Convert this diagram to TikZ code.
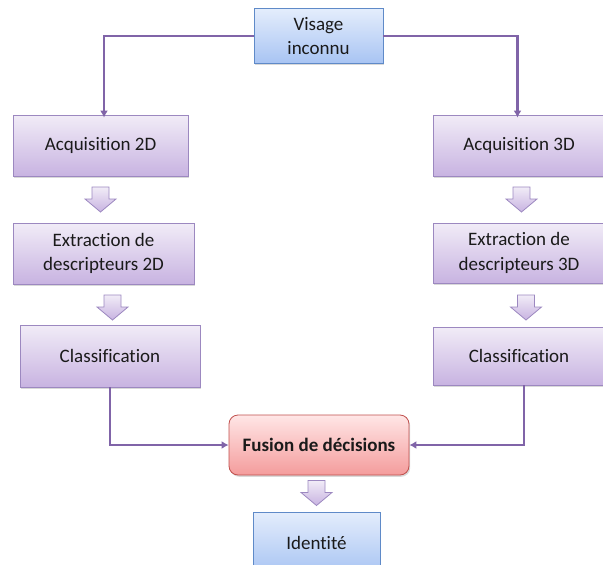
\documentclass[tikz,border=0pt]{standalone}
\usepackage{fontspec}
\setmainfont[Ligatures={NoCommon}]{Carlito}
\usetikzlibrary{shadows,arrows.meta}

\definecolor{lavtop}{HTML}{F1ECF7}
\definecolor{lavbot}{HTML}{C8B3E1}
\definecolor{lavline}{HTML}{9C88C0}
\definecolor{bluetop}{HTML}{E4EDFC}
\definecolor{bluebot}{HTML}{A8C4F3}
\definecolor{blueline}{HTML}{5F8AC8}
\definecolor{redtop}{HTML}{FFE6E6}
\definecolor{redbot}{HTML}{F49C9C}
\definecolor{redline}{HTML}{C0504D}
\definecolor{connline}{HTML}{8064A8}
\definecolor{txt}{HTML}{1A1A1A}

\begin{document}
\begin{tikzpicture}[x=1pt,y=-1pt,
  base/.style={line width=0.8pt, align=center, inner sep=0pt, text=txt,
    font=\fontsize{19}{24.5}\selectfont,
    drop shadow={shadow xshift=1.2pt,shadow yshift=-1.8pt,opacity=0.3}},
  lavbox/.style={base, draw=lavline, top color=lavtop, bottom color=lavbot},
  bluebox/.style={base, draw=blueline, top color=bluetop, bottom color=bluebot},
  fusbox/.style={base, draw=redline, top color=redtop, bottom color=redbot,
    rounded corners=9pt, font=\fontsize{19}{24.5}\selectfont\bfseries},
  conn/.style={draw=connline, line width=2.3pt, -{Latex[length=7pt,width=8pt]}},
  barrow/.pic={
    \draw[draw=lavline, line width=0.8pt, top color=lavtop, bottom color=lavbot]
      (-8.5,0) -- (8.5,0) -- (8.5,12) -- (15.5,12) -- (0,25)
      -- (-15.5,12) -- (-8.5,12) -- cycle;}
]
\useasboundingbox (0,0) rectangle (603,565);
\clip (0,0) rectangle (603,565);

% boxes
\node[bluebox, minimum width=129pt, minimum height=55pt] (vis) at (318.5,36) {Visage\\inconnu};

\node[lavbox, minimum width=175pt, minimum height=61pt] (acq2) at (100.5,145.5) {Acquisition 2D};
\node[lavbox, minimum width=181pt, minimum height=61pt] (ext2) at (103.5,253.5) {Extraction de\\descripteurs 2D};
\node[lavbox, minimum width=180pt, minimum height=62pt] (cls2) at (110,356) {Classification};

\node[lavbox, minimum width=172pt, minimum height=61pt] (acq3) at (519,145.5) {Acquisition 3D};
\node[lavbox, minimum width=172pt, minimum height=60pt] (ext3) at (519,253) {Extraction de\\descripteurs 3D};
\node[lavbox, minimum width=172pt, minimum height=58pt] (cls3) at (519,356) {Classification};

\node[fusbox, minimum width=180pt, minimum height=60pt] (fus) at (319,445) {Fusion de décisions};

\node[bluebox, minimum width=127pt, minimum height=62pt] (idt) at (316.5,543) {Identité};

% connectors
\draw[conn] (vis.west) -| ([xshift=3.5pt,yshift=-3pt]acq2.north);
\draw[conn] (vis.east) -| ([xshift=-1.5pt,yshift=-3pt]acq3.north);
\draw[conn] (cls2.south) |- (fus.west);
\draw[conn] ([xshift=5pt]cls3.south) |- (fus.east);

% block arrows between stages
\pic (ba1) at (100.5,187) {barrow};
\pic (ba2) at (112.5,295) {barrow};
\pic (ba3) at (521.5,187) {barrow};
\pic (ba4) at (526,295) {barrow};
\pic (ba5) at (316.5,480.5) {barrow};
\end{tikzpicture}
\end{document}
